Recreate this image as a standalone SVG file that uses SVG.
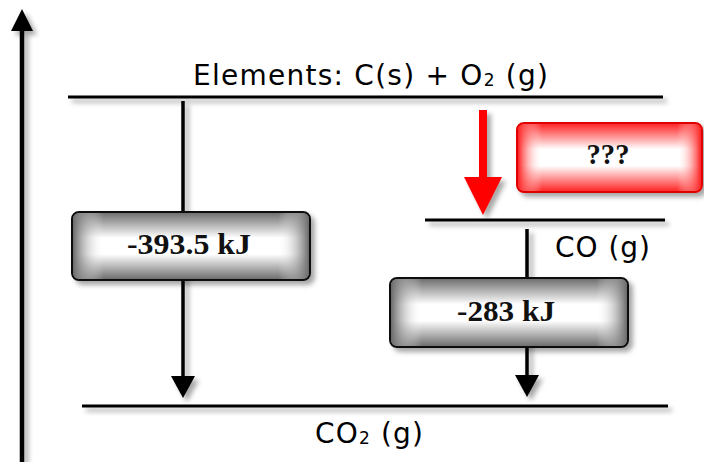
<svg xmlns="http://www.w3.org/2000/svg" width="704" height="462" viewBox="0 0 704 462">
<style>
.lbl{font-family:"DejaVu Sans","Verdana",sans-serif;font-size:28px;fill:#000}
.val{font-family:"Liberation Serif","Times New Roman",serif;font-size:30px;font-weight:bold;fill:#111;text-anchor:middle}
.ln{stroke:#000;stroke-width:3;fill:none}
.conn{stroke:#000;stroke-width:3.5;fill:none}
</style>
<defs>
<filter id="sh" x="-20%" y="-20%" width="150%" height="150%">
<feDropShadow dx="4" dy="4" stdDeviation="2.5" flood-color="#000" flood-opacity="0.35"/>
</filter>
<linearGradient id="gv" x1="0" y1="0" x2="0" y2="1">
<stop offset="0" stop-color="#6a6a6a"/>
<stop offset="0.38" stop-color="#ffffff"/>
<stop offset="0.62" stop-color="#ffffff"/>
<stop offset="1" stop-color="#6a6a6a"/>
</linearGradient>
<linearGradient id="gh" x1="0" y1="0" x2="1" y2="0">
<stop offset="0" stop-color="#6a6a6a" stop-opacity="1"/>
<stop offset="0.13" stop-color="#ffffff" stop-opacity="0"/>
<stop offset="0.87" stop-color="#ffffff" stop-opacity="0"/>
<stop offset="1" stop-color="#6a6a6a" stop-opacity="1"/>
</linearGradient>
<linearGradient id="rv" x1="0" y1="0" x2="0" y2="1">
<stop offset="0" stop-color="#ff2020"/>
<stop offset="0.38" stop-color="#ffffff"/>
<stop offset="0.62" stop-color="#ffffff"/>
<stop offset="1" stop-color="#ff2020"/>
</linearGradient>
<linearGradient id="rh" x1="0" y1="0" x2="1" y2="0">
<stop offset="0" stop-color="#ff2020" stop-opacity="1"/>
<stop offset="0.13" stop-color="#ffffff" stop-opacity="0"/>
<stop offset="0.87" stop-color="#ffffff" stop-opacity="0"/>
<stop offset="1" stop-color="#ff2020" stop-opacity="1"/>
</linearGradient>
</defs>

<g id="axis" filter="url(#sh)">
<line x1="22" y1="462" x2="22" y2="28" stroke="#000" stroke-width="4.5"/>
<path d="M11,31 L33,31 L22,9 Z" fill="#000"/>
</g>

<g id="levels" filter="url(#sh)">
<line class="ln" x1="68" y1="97" x2="663" y2="97"/>
<line class="ln" x1="425" y1="220" x2="665" y2="220"/>
<line class="ln" x1="82" y1="406" x2="668" y2="406"/>
</g>

<g id="connectors" filter="url(#sh)">
<line class="conn" x1="183" y1="101" x2="183" y2="380"/>
<path d="M171,376 L195,376 L183,398 Z" fill="#000"/>
<line class="conn" x1="527" y1="229" x2="527" y2="380"/>
<path d="M515,375 L539,375 L527,397 Z" fill="#000"/>
<line x1="483" y1="110" x2="483" y2="180" stroke="#ff0000" stroke-width="8"/>
<path d="M464,177 L502,177 L483,215 Z" fill="#ff0000"/>
</g>

<g id="label-elements">
<text class="lbl" x="193" y="85" textLength="355" lengthAdjust="spacing">Elements: C(s) + O<tspan font-size="17" dy="1">2</tspan><tspan dy="-1"> (g)</tspan></text>
</g>

<g id="label-co">
<text class="lbl" x="555" y="257" textLength="95" lengthAdjust="spacing">CO (g)</text>
</g>

<g id="label-co2">
<text class="lbl" x="315" y="443" textLength="108" lengthAdjust="spacing">CO<tspan font-size="17" dy="1">2</tspan><tspan dy="-1"> (g)</tspan></text>
</g>

<g id="box-393">
<g filter="url(#sh)">
<rect x="72" y="212" width="238" height="68" rx="7" fill="url(#gv)" stroke="#111" stroke-width="2"/>
</g>
<rect x="73" y="213" width="236" height="66" rx="6" fill="url(#gh)"/>
<text class="val" x="189" y="254" textLength="124" lengthAdjust="spacingAndGlyphs">-393.5 kJ</text>
</g>

<g id="box-283">
<g filter="url(#sh)">
<rect x="390" y="278" width="238" height="69" rx="7" fill="url(#gv)" stroke="#111" stroke-width="2"/>
</g>
<rect x="391" y="279" width="236" height="67" rx="6" fill="url(#gh)"/>
<text class="val" x="506" y="321" textLength="98" lengthAdjust="spacingAndGlyphs">-283 kJ</text>
</g>

<g id="box-unknown">
<g filter="url(#sh)">
<rect x="517" y="123" width="185" height="69" rx="7" fill="url(#rv)" stroke="#e00000" stroke-width="2"/>
</g>
<rect x="518" y="124" width="183" height="67" rx="6" fill="url(#rh)"/>
<text class="val" x="608" y="164" font-size="27" textLength="43" lengthAdjust="spacingAndGlyphs">???</text>
</g>
</svg>
